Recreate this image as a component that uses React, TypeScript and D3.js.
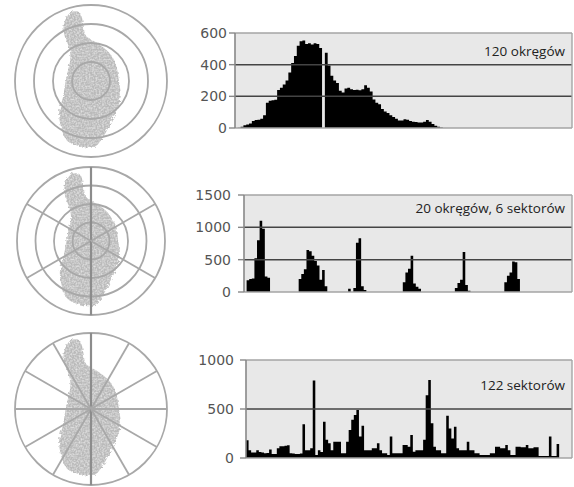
import React, { useRef, useEffect } from "react";
import * as d3 from "d3";

// histogram values, one per bin
const ringsHist = [
	0, 2, 8, 18, 22, 28, 45, 50, 52, 58,
	80, 160, 172, 175, 178, 240, 255, 275, 300, 350,
	410, 455, 520, 548, 552, 530, 535, 528, 535, 530,
	505, 0, 475, 395, 330, 300, 285, 235, 225, 250,
	255, 245, 240, 242, 238, 245, 270, 255, 230, 180,
	160, 150, 120, 105, 95, 80, 70, 58, 48, 48,
	55, 52, 45, 40, 38, 35, 35, 40, 50, 40,
	25, 15, 8, 3, 0, 0, 0, 0, 0, 0,
	0, 0, 0, 0, 0, 0, 0, 0, 0, 0,
	0, 0, 0, 0, 0, 0, 0, 0, 0, 0,
	0, 0, 0, 0, 0, 0, 0, 0, 0, 0,
	0, 0, 0, 0, 0, 0, 0, 0, 0, 0,
];

const ringSectorHist = [
	0, 180, 200, 210, 520, 800, 1100, 980, 240, 220, 0, 0, 0, 0, 0, 0, 0, 0, 0, 0,
	0, 200, 280, 350, 650, 630, 560, 480, 410, 190, 340, 90, 0, 0, 0, 0, 0, 0, 0, 0,
	50, 0, 60, 760, 830, 90, 30, 0, 0, 0, 0, 0, 0, 0, 0, 0, 0, 0, 0, 0,
	0, 150, 300, 360, 560, 130, 80, 50, 0, 0, 0, 0, 0, 0, 0, 0, 0, 0, 0, 0,
	0, 60, 140, 190, 620, 110, 20, 0, 0, 0, 0, 0, 0, 0, 0, 0, 0, 0, 0, 0,
	150, 250, 300, 470, 460, 200, 0, 0, 0, 0, 0, 0, 0, 0, 0, 0, 0, 0, 0, 0,
];

const sectorHist = [
	180, 80, 55, 55, 80, 60, 55, 48, 50, 88,
	40, 40, 100, 120, 120, 125, 130, 48, 45, 40,
	40, 45, 345, 80, 80, 100, 790, 30, 80, 60,
	370, 185, 150, 80, 165, 165, 165, 48, 48, 165,
	285, 390, 440, 490, 220, 330, 80, 80, 80, 100,
	100, 150, 80, 48, 48, 30, 220, 48, 48, 48,
	48, 133, 133, 115, 235, 65, 80, 80, 80, 185,
	640, 795, 355, 115, 80, 80, 48, 48, 430, 300,
	200, 320, 100, 80, 80, 80, 165, 80, 80, 48,
	48, 30, 30, 30, 30, 48, 48, 115, 115, 100,
	100, 133, 80, 30, 30, 115, 115, 110, 110, 133,
	100, 100, 110, 110, 20, 20, 20, 20, 220, 20,
	20, 143,
];

const ringsTicks = [0, 200, 400, 600];
const ringSectorTicks = [0, 500, 1000, 1500];
const sectorTicks = [0, 500, 1000];

const panelLabels = ["120 okręgów", "20 okręgów, 6 sektorów", "122 sektorów"];

// rings and sectors of the schematic discs
const discRings = [4, 4, 1];
const discSectors = [0, 6, 12];

// outline of the island, in units of the disc radius
const island = [
	[-0.25, -0.91], [-0.15, -0.9], [-0.1, -0.74], [-0.07, -0.6], [0.08, -0.5],
	[0.23, -0.38], [0.33, -0.2], [0.37, 0.02], [0.39, 0.2], [0.34, 0.38],
	[0.26, 0.54], [0.17, 0.72], [0.04, 0.87], [-0.145, 0.86], [-0.32, 0.78],
	[-0.39, 0.62], [-0.42, 0.41], [-0.37, 0.22], [-0.34, 0.04], [-0.3, -0.15],
	[-0.27, -0.3], [-0.29, -0.45], [-0.34, -0.57], [-0.36, -0.72], [-0.32, -0.84],
];

const W = 574;
const H = 487;

const panels = [
	{ values: ringsHist, ticks: ringsTicks, slots: 120, left: 235, right: 572, top: 33, bottom: 128, gap: 8, labelY: 56 },
	{ values: ringSectorHist, ticks: ringSectorTicks, slots: 126, left: 244, right: 572, top: 195, bottom: 292, gap: 13, labelY: 213 },
	{ values: sectorHist, ticks: sectorTicks, slots: 127, left: 246, right: 572, top: 360, bottom: 458, gap: 12, labelY: 390 },
];

const discs = [
	{ cx: 91, cy: 81, r: 76 },
	{ cx: 91, cy: 241, r: 74 },
	{ cx: 91, cy: 409, r: 76 },
];

const App = () => {
	const chartRef = useRef(null);

	useEffect(() => {
		const svg = d3.select(chartRef.current);
		svg.selectAll("*").remove();

		// rough, mottled fill for the island
		const defs = svg.append("defs");
		const f = defs.append("filter").attr("id", "rough")
			.attr("x", "-20%").attr("y", "-20%").attr("width", "140%").attr("height", "140%");
		f.append("feTurbulence").attr("type", "fractalNoise").attr("baseFrequency", 0.35)
			.attr("numOctaves", 2).attr("seed", 3).attr("result", "noise");
		f.append("feDisplacementMap").attr("in", "SourceGraphic").attr("in2", "noise")
			.attr("scale", 5).attr("result", "shape");
		f.append("feTurbulence").attr("type", "fractalNoise").attr("baseFrequency", 0.6)
			.attr("numOctaves", 1).attr("seed", 8).attr("result", "spots");
		f.append("feColorMatrix").attr("in", "spots").attr("type", "matrix")
			.attr("values", "0 0 0 0 1  0 0 0 0 1  0 0 0 0 1  1.2 0 0 0 -0.45")
			.attr("result", "light");
		f.append("feComposite").attr("in", "light").attr("in2", "shape").attr("operator", "in").attr("result", "lightIn");
		const merge = f.append("feMerge");
		merge.append("feMergeNode").attr("in", "shape");
		merge.append("feMergeNode").attr("in", "lightIn");

		// discs
		discs.forEach((d, k) => {
			const g = svg.append("g").attr("transform", `translate(${d.cx},${d.cy})`);
			const s = d3.scaleLinear().domain([-1, 1]).range([-d.r, d.r]);
			const blob = d3.line().x(p => s(p[0])).y(p => s(p[1])).curve(d3.curveCatmullRomClosed);
			g.append("path")
				.attr("d", blob(island))
				.attr("fill", "#bababa")
				.attr("filter", "url(#rough)");

			const n = discRings[k];
			d3.range(1, n + 1).forEach(i => {
				g.append("circle")
					.attr("r", d.r * i / n)
					.attr("fill", "none")
					.attr("stroke", "#a8a8a8")
					.attr("stroke-width", 1.8);
			});

			const m = discSectors[k];
			d3.range(m).forEach(i => {
				const a = Math.PI / 2 + (i * 2 * Math.PI) / m;
				const vertical = Math.abs(Math.cos(a)) < 1e-6;
				g.append("line")
					.attr("x1", 0).attr("y1", 0)
					.attr("x2", d.r * Math.cos(a))
					.attr("y2", -d.r * Math.sin(a))
					.attr("stroke", vertical ? "#8c8c8c" : "#a8a8a8")
					.attr("stroke-width", vertical ? 2.2 : 1.8);
			});
		});

		// histograms
		panels.forEach((p, k) => {
			const x = d3.scaleLinear().domain([0, p.slots]).range([p.left, p.right]);
			const maxT = d3.max(p.ticks);
			const y = d3.scaleLinear().domain([0, maxT]).range([p.bottom, p.top]);
			const g = svg.append("g");

			g.append("rect")
				.attr("x", p.left).attr("y", p.top)
				.attr("width", p.right - p.left).attr("height", p.bottom - p.top)
				.attr("fill", "#e8e8e8");

			const pts = p.values.map((v, i) => ({ i, v }));
			pts.push({ i: p.values.length, v: p.values[p.values.length - 1] });
			const area = d3.area()
				.x(d => x(d.i))
				.y0(y(0))
				.y1(d => y(d.v))
				.curve(d3.curveStepAfter);

			g.append("path").attr("d", area(pts)).attr("fill", "#000");

			p.ticks.forEach(t => {
				const edge = t === 0 || t === maxT;
				g.append("line")
					.attr("x1", p.left).attr("x2", p.right)
					.attr("y1", y(t)).attr("y2", y(t))
					.attr("stroke", edge ? "#a5a5a5" : "#444")
					.attr("stroke-width", edge ? 1.4 : 1.5);
				g.append("line")
					.attr("x1", p.left - 6).attr("x2", p.left)
					.attr("y1", y(t)).attr("y2", y(t))
					.attr("stroke", "#888")
					.attr("stroke-width", 1.4);
				g.append("text")
					.attr("x", p.left - p.gap)
					.attr("y", y(t))
					.attr("dy", "0.36em")
					.attr("text-anchor", "end")
					.attr("font-family", "DejaVu Sans")
					.attr("font-size", 14)
					.attr("fill", "#555")
					.text(t);
			});

			g.append("line")
				.attr("x1", p.right).attr("x2", p.right)
				.attr("y1", p.top).attr("y2", p.bottom)
				.attr("stroke", "#a5a5a5").attr("stroke-width", 1.4);
			g.append("line")
				.attr("x1", p.left).attr("x2", p.left)
				.attr("y1", p.top).attr("y2", p.bottom)
				.attr("stroke", "#888").attr("stroke-width", 1.6);

			g.append("text")
				.attr("x", p.right - 7)
				.attr("y", p.labelY)
				.attr("text-anchor", "end")
				.attr("font-family", "Open Sans")
				.attr("font-size", 13.5)
				.attr("fill", "#222")
				.text(panelLabels[k]);
		});
	}, []);

	return (
		<svg
			ref={chartRef}
			width={W}
			height={H}
			style={{ position: "absolute", left: 0, top: 0, background: "#fff" }}
		></svg>
	);
};

export default App;
